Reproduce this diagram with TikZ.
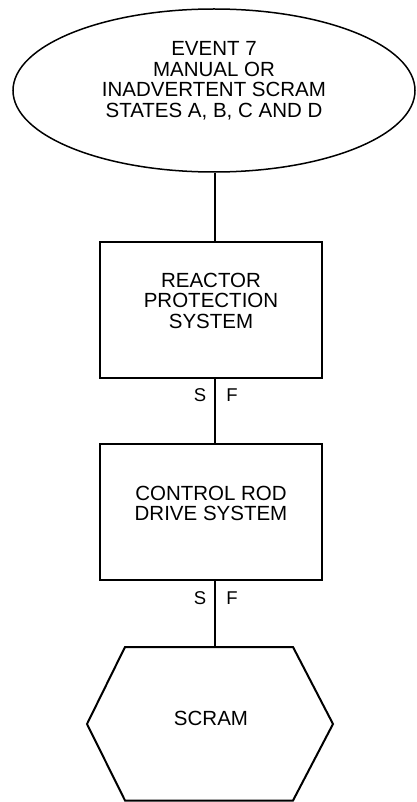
\documentclass[tikz,border=0pt]{standalone}
\usepackage{fontspec}
\setmainfont{Liberation Sans}
\usetikzlibrary{shapes.geometric}
\begin{document}
\begin{tikzpicture}[x=1pt,y=-1pt,
  txt/.style={align=center,inner sep=0pt,font=\fontsize{20.5}{20.4}\selectfont},
  sflab/.style={inner sep=0pt,anchor=base,font=\fontsize{18.5}{20}\selectfont},
  boxstyle/.style={draw,line width=1.8pt,rectangle,minimum width=222pt,minimum height=136pt,inner sep=0pt},
  conn/.style={line width=1.4pt}]
\useasboundingbox (0,0) rectangle (416,802);
% start event
\node[draw,ellipse,line width=1.5pt,minimum width=402pt,minimum height=163pt,inner sep=0pt] (ev) at (214,90.5) {};
\node[txt,anchor=north] (evt) at (214,41.5) {EVENT 7\\MANUAL OR\\INADVERTENT SCRAM\\STATES A, B, C AND D};
% reactor protection system
\node[boxstyle] (rps) at (211,310) {};
\node[txt,anchor=north] (rpst) at (211,273) {REACTOR\\PROTECTION\\SYSTEM};
% control rod drive system
\node[boxstyle] (crd) at (211,512) {};
\node[txt,anchor=north] (crdt) at (211,486) {CONTROL ROD\\DRIVE SYSTEM};
% scram end state
\coordinate (hextop) at (215,647);
\draw[line width=2pt,line join=miter] (125,647) -- (293,647) -- (333,724) -- (293,800.5) -- (125,800.5) -- (87,724) -- cycle;
\node[txt,anchor=base] (scram) at (211,725.5) {SCRAM};
% connectors
\draw[conn] (ev.south -| hextop) -- (rps.north -| hextop);
\draw[conn] (rps.south -| hextop) -- (crd.north -| hextop);
\draw[conn] (crd.south -| hextop) -- (hextop);
% S/F labels
\node[sflab] (s1) at (200,401) {S};
\node[sflab] (f1) at (232,401) {F};
\node[sflab] (s2) at (200,604) {S};
\node[sflab] (f2) at (232,604) {F};
\end{tikzpicture}
\end{document}
